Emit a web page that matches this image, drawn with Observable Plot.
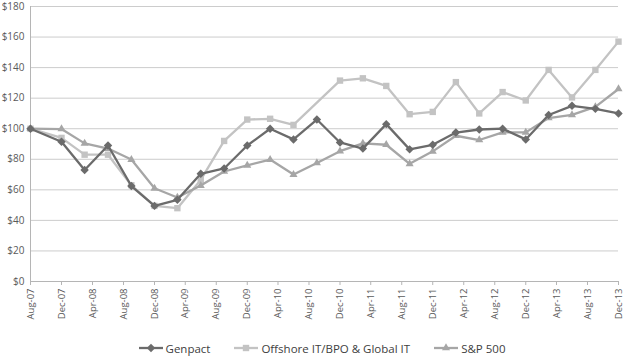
<!DOCTYPE html>
<html>
<head>
<meta charset="utf-8">
<script src="https://cdn.jsdelivr.net/npm/d3@7"></script>
<script src="https://cdn.jsdelivr.net/npm/@observablehq/plot@0.6"></script>
<style>
  html, body { margin: 0; padding: 0; background: #fff; }
  #chart { width: 624px; }
  .legend { display: flex; justify-content: center; align-items: center; gap: 24px; height: 26px; margin-top: 5px;
    padding-left: 20px; font-family: "Open Sans", sans-serif; font-size: 11.5px; color: #404040; }
  .legend span.item { display: flex; align-items: center; gap: 3px; }
</style>
</head>
<body>
<div id="chart"></div>
<script>
const tickLabels = ["Aug-07","Dec-07","Apr-08","Aug-08","Dec-08","Apr-09","Aug-09","Dec-09","Apr-10","Aug-10",
  "Dec-10","Apr-11","Aug-11","Dec-11","Apr-12","Aug-12","Dec-12","Apr-13","Aug-13","Dec-13"];
const periods = ["Aug-07","Dec-07","Mar-08","Jun-08","Sep-08","Dec-08","Mar-09","Jun-09","Sep-09","Dec-09",
  "Mar-10","Jun-10","Sep-10","Dec-10","Mar-11","Jun-11","Sep-11","Dec-11","Mar-12","Jun-12",
  "Sep-12","Dec-12","Mar-13","Jun-13","Sep-13","Dec-13"];
const seriesNames = ["Genpact", "Offshore IT/BPO & Global IT", "S&P 500"];
const genpact  = [100, 91.5, 73, 89, 62.5, 49.5, 53.5, 70.5, 74, 89, 100, 93, 106, 91, 87, 103, 86.5, 89.5, 97.5, 99.5, 100, 93, 109, 115, 113, 110];
const offshore = [100, 94, 83, 83, 63, 49.5, 48, 66.5, 92, 106, 106.5, 102.5, null, 131.5, 133, 128, 109.5, 111, 130.5, 110, 124, 118.5, 138.5, 120.5, 138.5, 157];
const sp500    = [100, 99.8, 90.4, 87, 79.8, 61, 55, 62.8, 72, 76, 79.8, 70, 77.6, 85.3, 90.4, 89.5, 77, 85.2, 95.4, 92.6, 97.6, 97.6, 107, 109.1, 114.3, 126];
const yTicks = [0, 20, 40, 60, 80, 100, 120, 140, 160, 180];

const parse = d3.utcParse("%b-%y");
const colors = ["#6b6b6b", "#c3c3c3", "#a6a6a6"];
const symbols = ["diamond2", "square", "triangle"];
const radii = [3.8, 3.6, 3.0];
const values = [genpact, offshore, sp500];

const tickDates = tickLabels.map(parse);
const seriesRows = values.map((arr, s) => periods.map((p, i) => ({date: parse(p), value: arr[i], series: seriesNames[s]})).filter(d => d.value != null));

const drawOrder = [1, 2, 0];
const seriesMarks = drawOrder.flatMap(s => [
  Plot.line(seriesRows[s], {x: "date", y: "value", stroke: colors[s], strokeWidth: 2.3}),
  Plot.dot(seriesRows[s], {x: "date", y: "value", symbol: symbols[s], r: radii[s], fill: colors[s], stroke: "none"})
]);

const chart = Plot.plot({
  width: 624, height: 330,
  marginLeft: 30, marginRight: 6, marginTop: 6, marginBottom: 49,
  style: {fontFamily: "Open Sans, sans-serif", fontSize: "9.5px", color: "#595959", background: "#fff", overflow: "visible"},
  x: {type: "utc", domain: [tickDates[0], tickDates[tickDates.length - 1]]},
  y: {domain: [0, 180]},
  marks: [
    Plot.gridY(yTicks, {stroke: "#cccccc", strokeOpacity: 1}),
    Plot.axisY(yTicks, {tickSize: 0, tickPadding: 6, tickFormat: d => "$" + d, label: null, fontSize: 10}),
    Plot.ruleX([tickDates[0]], {stroke: "#b5b5b5"}),
    Plot.ruleY([0], {stroke: "#b5b5b5"}),
    Plot.axisX(tickDates, {tickSize: 4, tickPadding: 3, tickRotate: -90, stroke: "#b5b5b5",
      tickFormat: (d, i) => tickLabels[i], label: null}),
    ...seriesMarks
  ]
});
document.getElementById("chart").appendChild(chart);

const legend = document.createElement("div");
legend.className = "legend";
seriesNames.forEach((name, s) => {
  const item = document.createElement("span");
  item.className = "item";
  const sym = d3.symbol(d3[{diamond2: "symbolDiamond2", square: "symbolSquare", triangle: "symbolTriangle"}[symbols[s]]], Math.PI * radii[s] * radii[s])();
  item.innerHTML = `<svg width="24" height="10"><line x1="0" x2="24" y1="5" y2="5" stroke="${colors[s]}" stroke-width="2.3"/><path d="${sym}" transform="translate(12,5)" fill="${colors[s]}"/></svg><span>${name.replace("&", "&amp;")}</span>`;
  legend.appendChild(item);
});
document.body.appendChild(legend);
</script>
</body>
</html>
